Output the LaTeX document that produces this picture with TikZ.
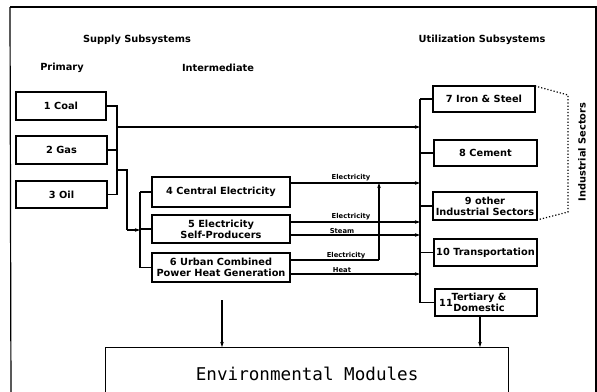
\documentclass[tikz,border=0pt]{standalone}
\usepackage{fontspec}
\setmainfont{DejaVu Sans}
\newfontfamily\envfont{DejaVu Sans Mono}
\usetikzlibrary{arrows.meta,calc}
\begin{document}
\begin{tikzpicture}[x=1pt,y=-1pt,
  box/.style={draw,line width=1.3pt,inner sep=0pt,outer sep=0pt,align=center,
    font=\fontsize{9.8}{10.8}\selectfont\bfseries},
  head/.style={font=\fontsize{9.8}{11}\selectfont\bfseries},
  flowlbl/.style={font=\fontsize{6.8}{7.5}\selectfont\bfseries,inner sep=0pt},
  conn/.style={line width=1.1pt},
  arr/.style={line width=1.1pt,-{Stealth[length=5pt,width=3.5pt]}}]
\useasboundingbox (0,0) rectangle (597,391);
\clip (0,0) rectangle (597,391);
% outer frame
\draw[line width=1.2pt] (10,7) -- (596,7) -- (596,400);
\draw[line width=1.2pt] (10,7) -- (11,400);
% headings
\node[head] (hs) at (137,40) {Supply Subsystems};
\node[head] (hp) at (62,68) {Primary};
\node[head] (hi) at (218,68) {Intermediate};
\node[head] (hu) at (482,40) {Utilization Subsystems};
% primary boxes
\node[box,minimum width=90pt,minimum height=28pt] (b1) at (61,106) {1 Coal};
\node[box,minimum width=91pt,minimum height=28pt] (b2) at (61.5,150) {2 Gas};
\node[box,minimum width=91pt,minimum height=27pt] (b3) at (61.5,194.5) {3 Oil};
% intermediate boxes
\node[box,minimum width=138pt,minimum height=30pt] (b4) at (221,192) {4 Central Electricity};
\node[box,minimum width=138pt,minimum height=28pt] (b5) at (221,229) {5 Electricity\\Self-Producers};
\node[box,minimum width=138pt,minimum height=29pt] (b6) at (221,267.5) {6 Urban Combined\\Power Heat Generation};
% utilization boxes
\node[box,minimum width=102pt,minimum height=26pt] (b7) at (484,99) {7 Iron \& Steel};
\node[box,minimum width=103pt,minimum height=26pt] (b8) at (485.5,153) {8 Cement};
\node[box,minimum width=104pt,minimum height=28pt] (b9) at (485,206) {9 other\\Industrial Sectors};
\node[box,minimum width=103pt,minimum height=27pt] (b10) at (485.5,252.5) {10 Transportation};
\node[box,minimum width=102pt,minimum height=27pt] (b11) at (486,302.5) {};
\node[font=\fontsize{9.8}{10.8}\selectfont\bfseries,inner sep=0pt] (t11a) at (446,303) {11};
\node[font=\fontsize{9.8}{10.8}\selectfont\bfseries,inner sep=0pt,align=center] (t11b) at (479,302.5) {Tertiary \&\\Domestic};
% environmental modules
\node[draw,line width=1.3pt,minimum width=403pt,minimum height=52pt,anchor=north west,
  inner sep=0pt,font=\envfont\fontsize{17.6}{20}\selectfont] (env) at (105,347) {Environmental Modules};
% coordinates
\coordinate (pb) at (117,127);
\coordinate (pc) at (117,170);
\coordinate (q1) at (127,170);
\coordinate (q2) at (127,230);
\coordinate (ib) at (140,230);
\coordinate (u1) at (420,127);
\coordinate (u2) at (420,183);
\coordinate (u3) at (420,222);
\coordinate (u4) at (420,235);
\coordinate (u5) at (420,274);
\coordinate (k1) at (379,260);
\coordinate (k2) at (379,183);
\coordinate (d1) at (222,300);
% primary bus
\draw[conn] (b1.east) -| (pb) |- (b3.east);
\draw[conn] (b2.east) -- (b2.east -| pb);
\draw[arr] (pb) -- (u1);
\draw[conn] (pc) -- (q1) -- (q2);
\draw[arr] (q2) -- (ib);
% intermediate bus
\draw[conn] (b4.west -| ib) -- (b6.west -| ib);
\draw[conn] (b4.west -| ib) -- (b4.west);
\draw[conn] (b5.west -| ib) -- (b5.west);
\draw[conn] (b6.west -| ib) -- (b6.west);
% outputs
\draw[arr] (b4.east |- u2) -- node[flowlbl,above=1.2pt,xshift=-4pt] (l1) {Electricity} (u2);
\draw[arr] (b5.east |- u3) -- node[flowlbl,above=1.2pt,xshift=-4pt] (l2) {Electricity} (u3);
\draw[arr] (b5.east |- u4) -- node[flowlbl,above=1.2pt,xshift=-13pt] (l3) {Steam} (u4);
\draw[conn] (b6.east |- k1) -- (k1);
\node[flowlbl,above=1.2pt] (l4) at ($(b6.east |- k1)!0.63!(k1)$) {Electricity};
\draw[arr] (k1) -- (k2);
\draw[arr] (b6.east |- u5) -- node[flowlbl,above=1.2pt,xshift=-13pt] (l5) {Heat} (u5);
% utilization bus
\draw[conn] (b7.west -| u1) -- (b11.west -| u1);
\foreach \b in {b7,b8,b9,b10,b11} \draw[conn] (\b.west -| u1) -- (\b.west);
% down arrows
\draw[arr] (d1) -- (d1 |- env.north);
\draw[arr] ([xshift=-6pt]b11.south) -- ([xshift=-6pt]b11.south |- env.north);
% industrial sectors bracket
\coordinate (s1) at (568,95);
\coordinate (s2) at (568,212);
\draw[line width=1.2pt,dotted] (b7.north east) -- (s1) -- (s2) -- (b9.south east);
\node[head,rotate=90] (is) at (582,152) {Industrial Sectors};
\end{tikzpicture}
\end{document}
